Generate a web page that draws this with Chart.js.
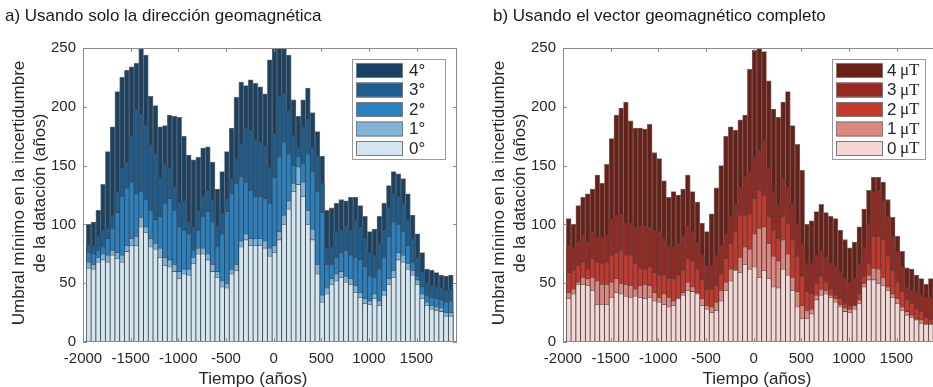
<!DOCTYPE html>
<html>
<head>
<meta charset="utf-8">
<script src="https://cdn.jsdelivr.net/npm/chart.js@4.4.0/dist/chart.umd.min.js"></script>
<style>
  html, body { margin: 0; padding: 0; background: #fff; }
  body { width: 933px; height: 387px; overflow: hidden; position: relative;
         font-family: "Liberation Sans", Arial, sans-serif; }
  .panel { position: absolute; top: 0; width: 480px; height: 387px; }
  .panel-title { position: absolute; top: 6px; font-size: 17px; color: #1a1a1a; white-space: nowrap; }
</style>
</head>
<body>
<div class="panel" style="left:0"><canvas id="chart-dir" width="480" height="387"></canvas></div>
<div class="panel" style="left:480px"><canvas id="chart-vec" width="480" height="387"></canvas></div>
<div class="panel-title" style="left:5px">a) Usando solo la dirección geomagnética</div>
<div class="panel-title" style="left:493px">b) Usando el vector geomagnético completo</div>

<script>
// centre of each 50-year window
const years = [];
for (let y = -1940; y <= 1860; y += 50) years.push(y);

const xTicks = [-2000, -1500, -1000, -500, 0, 500, 1000, 1500];
const yTicks = [0, 50, 100, 150, 200, 250];

// a) direction only, threshold per angular error (0..4 degrees)
const dir0 = [63,62,68,70,68,74,71,68,77,82, 82,98,93,81,79,72,65,64,60,54, 58,57,67,75,75,70,60,55,47,46,
              58,61,81,87,82,82,82,80,73,76, 87,100,113,128,134,124,100,87,58,34, 41,49,52,55,51,49,42,38,33,32,
              37,31,40,49,55,70,68,62,57,49, 37,31,28,27,26,22,22];
const dir1 = [68,66,72,75,74,78,76,74,82,88, 90,106,98,88,84,80,72,70,66,60, 62,62,72,80,80,75,66,60,52,50,
              62,66,86,92,88,88,88,86,80,82, 94,108,120,135,149,136,112,96,66,40, 46,54,58,60,56,54,48,42,37,35,
              41,35,44,54,61,76,74,67,61,53, 41,34,31,30,29,25,25];
const dir2 = [76,75,78,81,88,97,110,124,131,136, 126,128,121,112,104,107,118,122,112,98, 95,92,78,95,107,111,102,81,92,111,
              126,135,141,136,129,124,124,122,118,140, 158,170,160,150,158,152,160,145,128,110, 66,66,72,76,78,74,72,70,64,56,
              55,62,72,90,102,100,94,82,68,56, 47,40,38,37,36,34,35];
const dir3 = [83,82,90,95,97,108,128,148,153,175, 198,194,185,168,160,140,152,148,132,119, 120,102,98,112,124,129,121,99,110,122,
              139,156,169,182,180,172,170,167,149,177, 209,211,197,176,166,183,190,166,159,135, 80,81,94,95,99,95,104,98,88,76,
              74,84,95,114,126,124,118,104,88,72, 60,50,48,47,46,44,45];
const dir4 = [100,102,112,134,162,183,213,225,231,234, 237,256,244,209,201,183,184,193,192,191, 175,159,155,157,165,166,153,130,145,162,
              182,208,221,218,223,220,217,211,240,262, 258,254,244,206,192,206,216,195,179,158, 112,114,118,121,120,123,123,116,107,94,
              96,107,118,133,145,143,139,126,108,92, 76,62,61,59,57,56,57];

// b) full vector, threshold per intensity error (0..4 microtesla)
const vec0 = [37,41,49,49,48,44,32,32,32,38, 42,41,39,38,39,38,37,38,35,34, 32,30,31,37,40,44,43,41,31,28,
              25,27,35,44,52,61,59,66,62,64, 55,61,54,47,46,62,57,44,30,20, 20,24,36,40,41,38,34,30,26,25,
              28,33,47,53,53,50,48,44,38,33, 27,23,21,19,16,15,15];
const vec1 = [42,45,51,55,54,55,52,49,49,51, 54,50,49,48,45,48,49,48,42,38, 41,38,35,38,42,51,47,42,37,31,
              30,34,44,51,62,62,72,81,79,92, 97,98,84,73,69,87,75,55,43,31, 27,28,40,45,44,40,37,32,29,28,
              31,36,50,57,63,62,55,47,41,37, 30,26,23,20,19,16,16];
const vec2 = [59,61,65,68,62,71,68,67,68,74, 76,78,74,74,67,63,62,64,59,57, 57,54,54,57,61,71,69,62,53,45,
              45,48,58,71,84,94,108,108,109,122, 129,125,107,95,88,107,101,87,73,56, 43,41,50,56,51,45,40,37,33,31,
              32,41,56,67,90,90,87,73,61,51, 43,36,33,28,26,21,19];
const vec3 = [82,80,86,91,86,94,89,89,91,105, 108,109,101,101,98,99,99,98,95,94, 88,82,81,84,90,99,94,85,74,65,
              65,74,82,92,107,117,132,141,145,157, 163,172,148,128,117,139,132,118,101,84, 67,67,74,78,72,67,65,60,54,51,
              54,67,81,101,128,129,121,107,90,77, 64,47,44,43,40,38,38];
const vec4 = [105,100,116,123,126,130,142,135,151,173, 193,199,204,188,182,182,181,185,161,156, 137,123,128,125,130,142,128,119,101,94,
              109,131,150,175,183,180,189,193,232,248, 252,247,222,198,191,204,213,184,168,146, 100,103,111,117,110,107,105,95,87,80,
              85,98,113,129,140,140,136,121,106,90, 77,63,62,57,54,49,54];

const dirLabels = ['0°', '1°', '2°', '3°', '4°'];
const vecLabels = ['0 μT', '1 μT', '2 μT', '3 μT', '4 μT'];
const blues = ['#d3e5f1', '#7fb3d8', '#2b80c0', '#1f5d8e', '#1b4263'];
const reds = ['#f3d7d5', '#dc8880', '#c3392e', '#962a22', '#6a1f17'];

const SANS = '"Liberation Sans", Arial, sans-serif';
const SERIF = '"Liberation Serif", "Times New Roman", serif';
const TEXT = '#262626';
const AXIS = '#8a8a8a';

Chart.defaults.font.family = SANS;

// axes box with inward ticks, legend box and axis titles
const frame = {
  id: 'frame',
  afterDraw(chart, args, opts) {
    const {ctx, chartArea: area, scales: {x, y}} = chart;
    ctx.save();

    ctx.strokeStyle = AXIS;
    ctx.lineWidth = 1;
    ctx.strokeRect(area.left + 0.5, area.top + 0.5, area.width - 1, area.height - 1);
    ctx.beginPath();
    xTicks.forEach(v => {
      const px = Math.round(x.getPixelForValue(v)) + 0.5;
      ctx.moveTo(px, area.top); ctx.lineTo(px, area.top + 4);
      ctx.moveTo(px, area.bottom); ctx.lineTo(px, area.bottom - 4);
    });
    yTicks.forEach(v => {
      const py = Math.round(y.getPixelForValue(v)) + 0.5;
      ctx.moveTo(area.left, py); ctx.lineTo(area.left + 4, py);
      ctx.moveTo(area.right, py); ctx.lineTo(area.right - 4, py);
    });
    ctx.stroke();

    // legend, largest threshold on top
    const bx = area.right - 105, by = area.top + 11;
    ctx.fillStyle = '#fff';
    ctx.fillRect(bx, by, 93, 100);
    ctx.strokeStyle = '#9a9a9a';
    ctx.strokeRect(bx + 0.5, by + 0.5, 93, 100);
    const items = chart.data.datasets.slice().reverse();
    items.forEach((ds, i) => {
      const sy = by + 4 + i * 19.5;
      ctx.fillStyle = ds.backgroundColor;
      ctx.fillRect(bx + 4, sy, 47, 15);
      ctx.strokeStyle = '#7a7a7a';
      ctx.strokeRect(bx + 4.5, sy + 0.5, 46, 14);
      ctx.fillStyle = TEXT;
      ctx.textBaseline = 'middle';
      ctx.textAlign = 'left';
      const parts = ds.label.split(' ');
      ctx.font = '17px ' + SANS;
      ctx.fillText(parts[0], bx + opts.legendTextX, sy + 8);
      if (parts[1]) {
        ctx.font = '17px ' + SERIF;
        ctx.fillText(parts[1], bx + opts.legendTextX + 13, sy + 8);
      }
    });

    // axis titles
    ctx.fillStyle = TEXT;
    ctx.font = '17px ' + SANS;
    ctx.textAlign = 'center';
    ctx.textBaseline = 'middle';
    ctx.fillText('Tiempo (años)', opts.xTitleX, 379);
    const lines = ['Umbral mínimo en la incertidumbre', 'de la datación (años)'];
    lines.forEach((t, i) => {
      ctx.save();
      ctx.translate(opts.yTitleX + i * 21, 193);
      ctx.rotate(-Math.PI / 2);
      ctx.fillText(t, 0, 0);
      ctx.restore();
    });
    ctx.restore();
  }
};

function makeChart(canvasId, series, labels, colors, frameOpts) {
  const datasets = series.map((data, i) => ({
    label: labels[i],
    data: data,
    backgroundColor: colors[i],
    borderColor: 'rgba(70,70,70,0.75)',
    borderWidth: 0.8,
    clip: 0
  }));
  return new Chart(document.getElementById(canvasId), {
    type: 'bar',
    data: { labels: years, datasets: datasets },
    options: {
      responsive: false,
      animation: false,
      devicePixelRatio: 1,
      layout: { padding: { top: 48, right: 23, left: 0, bottom: 0 } },
      datasets: { bar: { grouped: false, categoryPercentage: 1, barPercentage: 1 } },
      plugins: {
        legend: { display: false },
        tooltip: { enabled: false },
        frame: frameOpts
      },
      scales: {
        x: {
          type: 'linear', min: -2000, max: 1925, offset: false,
          grid: { display: false, drawTicks: false }, border: { display: false },
          afterBuildTicks: s => { s.ticks = xTicks.map(v => ({ value: v })); },
          afterFit: s => { s.height = 45; },
          ticks: { padding: 8, color: TEXT, font: { size: 15 }, maxRotation: 0, autoSkip: false,
                   callback: v => String(v) }
        },
        y: {
          min: 0, max: 250,
          grid: { display: false, drawTicks: false }, border: { display: false },
          afterBuildTicks: s => { s.ticks = yTicks.map(v => ({ value: v })); },
          afterFit: s => { s.width = 83; },
          ticks: { padding: 7, color: TEXT, font: { size: 15 }, callback: v => String(v) }
        }
      }
    },
    plugins: [frame]
  });
}

makeChart('chart-dir', [dir0, dir1, dir2, dir3, dir4], dirLabels, blues,
  { xTitleX: 253, yTitleX: 19, legendTextX: 57 });
makeChart('chart-vec', [vec0, vec1, vec2, vec3, vec4], vecLabels, reds,
  { xTitleX: 277, yTitleX: 19, legendTextX: 55 });
</script>
</body>
</html>
